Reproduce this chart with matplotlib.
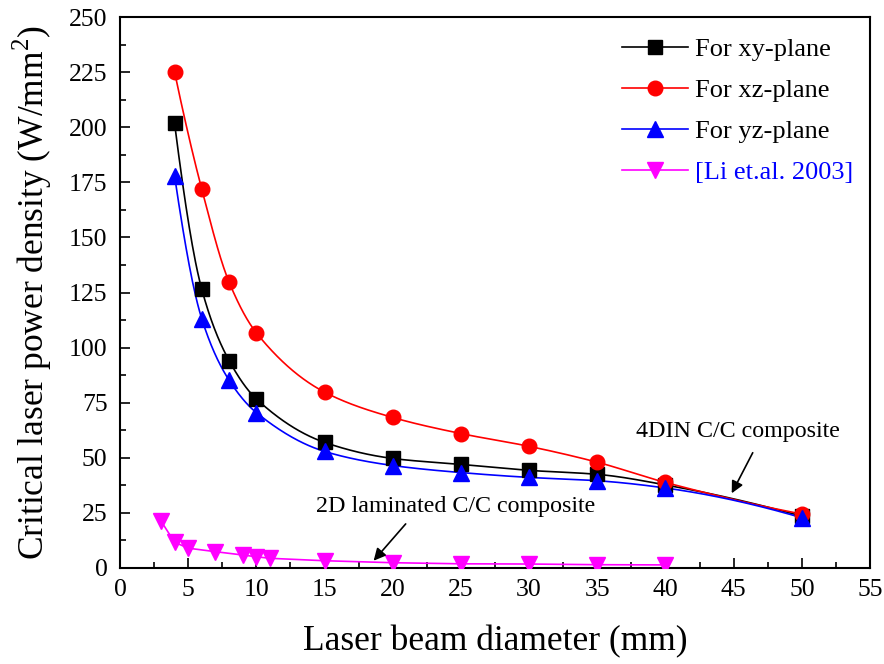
import numpy as np
import matplotlib
matplotlib.use("Agg")
import matplotlib.pyplot as plt
from matplotlib.ticker import MultipleLocator

plt.rcParams['font.family'] = ['Liberation Serif', 'DejaVu Serif']
plt.rcParams['mathtext.fontset'] = 'custom'
plt.rcParams['mathtext.rm'] = 'Liberation Serif'

# Beam diameters (mm)
diam = [4, 6, 8, 10, 15, 20, 25, 30, 35, 40, 50]
# Critical laser power density (W/mm^2) for each plane of the 4DIN C/C composite
xy_plane = [201.8, 126.4, 94.1, 76.7, 57.0, 49.7, 47.0, 44.3, 42.5, 37.7, 23.5]
xz_plane = [225.1, 171.8, 129.7, 106.7, 79.8, 68.3, 61.0, 55.2, 48.0, 38.8, 24.5]
yz_plane = [178.0, 113.0, 85.2, 70.5, 52.9, 46.5, 43.3, 41.1, 39.6, 36.3, 22.8]

# 2D laminated C/C composite, Li et al. 2003
li_diam = [3, 4, 5, 7, 9, 10, 11, 15, 20, 25, 30, 35, 40]
li_power = [21.4, 11.7, 9.0, 7.4, 5.9, 5.1, 4.4, 3.3, 2.4, 1.9, 1.8, 1.5, 1.4]

labels = ['For xy-plane', 'For xz-plane', 'For yz-plane', '[Li et.al. 2003]']


def pchip(x, y, xs):
    """Shape-preserving piecewise cubic Hermite curve through (x, y)."""
    x = np.asarray(x, float)
    y = np.asarray(y, float)
    h = np.diff(x)
    d = np.diff(y) / h
    n = len(x)
    m = np.zeros(n)
    for k in range(1, n - 1):
        if d[k - 1] * d[k] > 0:
            w1 = 2 * h[k] + h[k - 1]
            w2 = h[k] + 2 * h[k - 1]
            m[k] = (w1 + w2) / (w1 / d[k - 1] + w2 / d[k])
    m[0] = ((2 * h[0] + h[1]) * d[0] - h[0] * d[1]) / (h[0] + h[1])
    if m[0] * d[0] <= 0:
        m[0] = 0
    m[-1] = ((2 * h[-1] + h[-2]) * d[-1] - h[-1] * d[-2]) / (h[-1] + h[-2])
    if m[-1] * d[-1] <= 0:
        m[-1] = 0
    idx = np.clip(np.searchsorted(x, xs) - 1, 0, n - 2)
    t = (xs - x[idx]) / h[idx]
    h00 = 2 * t**3 - 3 * t**2 + 1
    h10 = t**3 - 2 * t**2 + t
    h01 = -2 * t**3 + 3 * t**2
    h11 = t**3 - t**2
    return h00 * y[idx] + h10 * h[idx] * m[idx] + h01 * y[idx + 1] + h11 * h[idx] * m[idx + 1]


fig = plt.figure(figsize=(8.84, 6.64), dpi=100)
ax = fig.add_axes([120 / 884, 96 / 664, 750 / 884, 551 / 664])

xs = np.linspace(diam[0], diam[-1], 600)
styles = [
    (xy_plane, 'black', 's', 9.6),
    (xz_plane, 'red', 'o', 10.5),
    (yz_plane, 'blue', '^', 11),
]
handles = []
for vals, col, mk, ms in styles:
    ax.plot(xs, pchip(diam, vals, xs), color=col, lw=1.2, zorder=2)
    ax.plot(diam, vals, ls='none', marker=mk, color=col, ms=ms, zorder=3)
    h, = ax.plot([], [], color=col, lw=1.2, marker=mk, ms=ms)
    handles.append(h)

ax.plot(li_diam, li_power, color='magenta', lw=1.2, marker='v', ms=11, zorder=3)
h, = ax.plot([], [], color='magenta', lw=1.2, marker='v', ms=11)
handles.append(h)

ax.set_xlim(0, 55)
ax.set_ylim(0, 250)
ax.xaxis.set_major_locator(MultipleLocator(5))
ax.xaxis.set_minor_locator(MultipleLocator(2.5))
ax.yaxis.set_major_locator(MultipleLocator(25))
ax.yaxis.set_minor_locator(MultipleLocator(12.5))
ax.tick_params(which='both', direction='in', top=False, right=False,
               labelsize=18.5, width=1.2)
ax.tick_params(which='major', length=7)
ax.tick_params(which='minor', length=4)
ax.tick_params(axis='x', pad=8)
ax.tick_params(axis='y', pad=9)
for s in ax.spines.values():
    s.set_linewidth(1.5)

ax.set_xlabel('Laser beam diameter (mm)', fontsize=25.5, labelpad=17)
ax.set_ylabel(r'Critical laser power density (W/mm$^\mathregular{2}$)',
              fontsize=25.5, labelpad=11)

leg = ax.legend(handles, labels, loc='upper left', frameon=False,
                fontsize=19, handlelength=2.5, handletextpad=0.25,
                labelspacing=0.66, borderaxespad=0, borderpad=0,
                bbox_to_anchor=(622 / 884, 1 - 38 / 664),
                bbox_transform=fig.transFigure)
leg.get_texts()[3].set_color('blue')

# Labels with arrows pointing at the two groups of curves
arrow_style = dict(arrowstyle='-|>', color='black', lw=1.2,
                   mutation_scale=18, shrinkA=0, shrinkB=0)
ax.text(45.3, 61.8, '4DIN C/C composite', fontsize=17.3,
        ha='center', va='center')
ax.annotate('', xy=(44.86, 33.9), xytext=(46.4, 52.3), arrowprops=arrow_style)
ax.text(24.6, 28.1, '2D laminated C/C composite', fontsize=17.3,
        ha='center', va='center')
ax.annotate('', xy=(18.6, 3.3), xytext=(20.95, 20.0), arrowprops=arrow_style)

fig.savefig('out.png', dpi=100)
